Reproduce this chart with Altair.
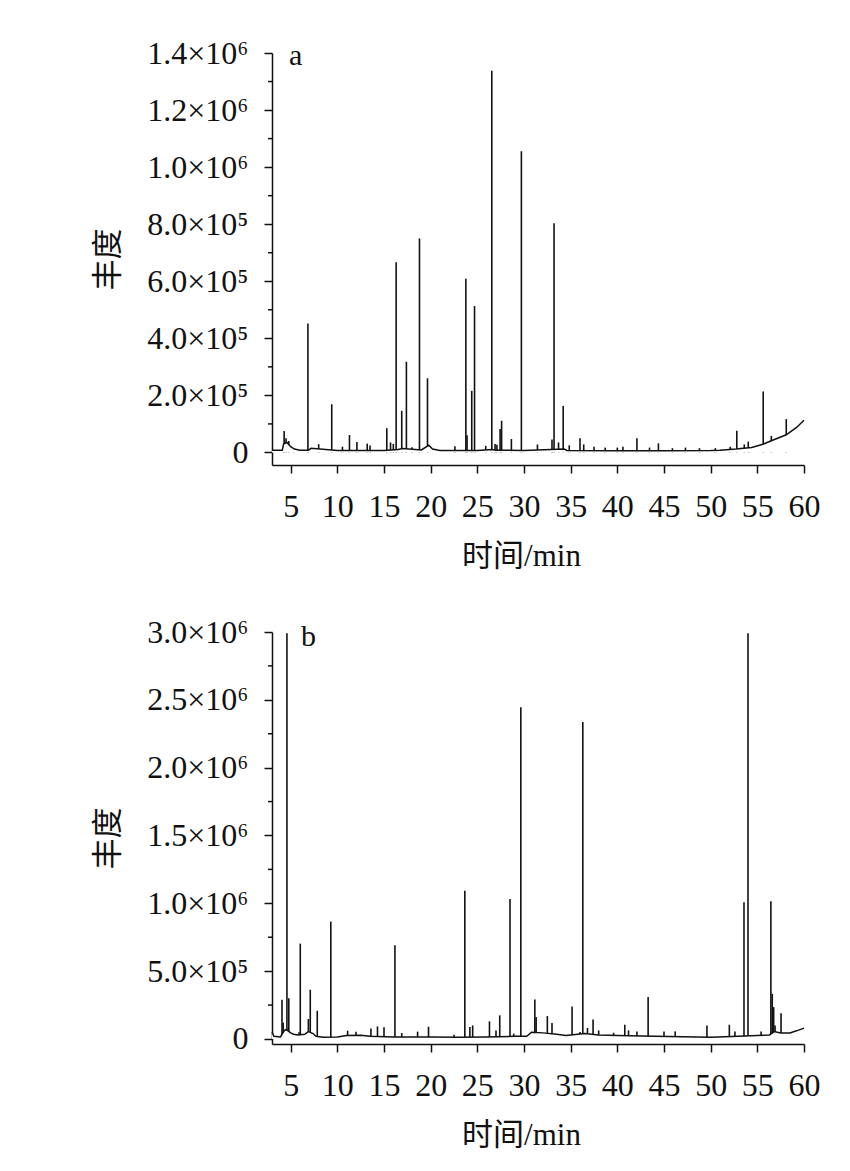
import altair as alt
import pandas as pd

INK = "#111111"
FONT = "Liberation Serif"
CJK = "Liberation Serif, Noto Sans CJK SC"
W, H = 532, 412

# ---- shared x axis ----
x_domain = [3, 60]
x_ticks = [5, 10, 15, 20, 25, 30, 35, 40, 45, 50, 55, 60]

# ---- panel a ----
a_y_domain = [-44000, 1400000]
a_y_ticks = [0, 200000, 400000, 600000, 800000, 1000000, 1200000, 1400000]
a_y_labels = ["0", "2.0×10⁵", "4.0×10⁵", "6.0×10⁵", "8.0×10⁵", "1.0×10⁶", "1.2×10⁶", "1.4×10⁶"]
a_y_minor = [100000, 300000, 500000, 700000, 900000, 1100000, 1300000]

a_peak_time = [4.3, 4.5, 4.8, 5.3, 6.85, 8.0, 9.4, 10.55, 11.3, 12.1, 13.2, 13.5,
               15.3, 15.7, 16.0, 16.3, 16.9, 17.4, 18.0, 18.8, 19.66, 22.6, 23.77, 23.9,
               24.4, 24.7, 25.9, 26.55, 26.9, 27.1, 27.44, 27.6, 28.65, 29.72, 31.44, 33.0,
               33.22, 33.7, 34.2, 34.85, 36.0, 36.4, 37.5, 38.7, 40.0, 40.6, 42.1, 43.45,
               44.4, 45.9, 47.3, 48.8, 50.5, 52.1, 52.8, 53.6, 54.03, 55.63, 56.5, 58.1]
a_peak_height = [75000, 50000, 40000, 15000, 452000, 29000, 169000, 20000, 61000, 37000, 31000, 24000,
                 85000, 35000, 30000, 667000, 146000, 318000, 18000, 750000, 260000, 22000, 609000, 60000,
                 216000, 513000, 23000, 1338000, 30000, 27000, 82000, 111000, 47000, 1056000, 28000, 45000,
                 803000, 35000, 163000, 25000, 50000, 28000, 20000, 17000, 17000, 20000, 50000, 17000,
                 32000, 15000, 17000, 15000, 15000, 20000, 76000, 28000, 38000, 214000, 58000, 117000]

a_base_time = [3.0, 4.1, 4.25, 4.6, 5.0, 5.4, 6.0, 6.9, 7.2, 10.0, 15.0, 16.5, 17.0, 19.0,
               19.8, 20.2, 21.0, 25.0, 26.6, 27.0, 30.0, 34.3, 34.6, 40.0, 45.0, 50.0, 51.0,
               52.7, 54.4, 55.6, 56.5, 58.1, 59.2, 60.0]
a_base_value = [8000, 8000, 30000, 35000, 20000, 12000, 8000, 8000, 15000, 7000, 7000, 10000, 14000, 9000,
                25000, 12000, 7000, 7000, 10000, 8000, 7000, 12000, 7000, 6000, 6000, 7000, 8000,
                12000, 17500, 29000, 41000, 62000, 87500, 113000]

# ---- panel b ----
b_y_domain = [-37000, 3000000]
b_y_ticks = [0, 500000, 1000000, 1500000, 2000000, 2500000, 3000000]
b_y_labels = ["0", "5.0×10⁵", "1.0×10⁶", "1.5×10⁶", "2.0×10⁶", "2.5×10⁶", "3.0×10⁶"]
b_y_minor = [250000, 750000, 1250000, 1750000, 2250000, 2750000]

b_peak_time = [4.07, 4.2, 4.6, 4.8, 5.9, 6.03, 6.9, 7.1, 7.85, 9.3, 11.1, 12.0,
               13.6, 14.3, 15.0, 16.17, 16.9, 18.6, 19.77, 22.5, 23.66, 24.2, 24.5, 26.3,
               27.0, 27.4, 28.5, 28.9, 29.66, 31.16, 31.3, 32.5, 33.0, 35.15, 36.0, 36.3,
               36.8, 37.4, 38.0, 39.6, 40.8, 41.2, 42.1, 43.3, 45.0, 46.2, 49.6, 52.0,
               52.6, 53.57, 54.0, 55.4, 56.45, 56.6, 56.75, 56.9, 57.54]
b_peak_height = [289000, 120000, 2990000, 300000, 49000, 703000, 147000, 363000, 208000, 865000, 61000, 54000,
                 78000, 93000, 86000, 691000, 44000, 54000, 90000, 32000, 1093000, 88000, 100000, 130000,
                 63000, 174000, 1031000, 39000, 2446000, 291000, 162000, 169000, 117000, 240000, 51000, 2336000,
                 81000, 144000, 63000, 46000, 105000, 63000, 56000, 309000, 56000, 56000, 100000, 105000,
                 56000, 1007000, 2990000, 56000, 1015000, 333000, 235000, 100000, 190000]

b_base_time = [3.0, 3.2, 3.9, 4.3, 4.5, 5.0, 5.3, 5.8, 6.5, 6.9, 7.4, 7.7, 8.5, 10.0, 11.0,
               12.5, 13.5, 16.0, 20.0, 23.0, 26.0, 29.0, 30.3, 30.8, 32.0, 33.5, 34.5, 36.5,
               38.0, 40.0, 44.0, 50.0, 53.0, 55.0, 56.3, 56.8, 57.5, 58.5, 59.2, 60.0]
b_base_value = [50000, 20000, 15000, 60000, 70000, 45000, 35000, 30000, 35000, 55000, 40000, 20000, 12000, 15000, 25000,
                28000, 20000, 15000, 15000, 12000, 15000, 20000, 20000, 50000, 45000, 35000, 25000, 40000,
                30000, 25000, 20000, 12000, 20000, 25000, 30000, 55000, 45000, 45000, 60000, 80000]


def label_expr(values, labels):
    expr = "''"
    for v, l in reversed(list(zip(values, labels))):
        expr = f"datum.value == {v} ? '{l}' : ({expr})"
    return expr


def panel(peak_t, peak_h, base_t, base_v, y_dom, y_ticks, y_labels, y_minor, letter, lx, ly):
    assert len(peak_t) == len(peak_h) and len(base_t) == len(base_v)
    xs = alt.Scale(domain=x_domain, nice=False, zero=False)
    ys = alt.Scale(domain=y_dom, nice=False, zero=False)
    peaks = pd.DataFrame({"t": peak_t, "h": peak_h, "z": [0] * len(peak_t)})
    base = pd.DataFrame({"t": base_t, "h": base_v})
    minor = pd.DataFrame({"h": y_minor})
    xaxis = alt.Axis(values=x_ticks, title="时间/min", tickSize=8, labelPadding=18,
                     titlePadding=19, labelFlush=False, titleX=249, titleAlign="center")
    yaxis = alt.Axis(values=y_ticks, labelExpr=label_expr(y_ticks, y_labels), title="丰度",
                     tickSize=8, labelPadding=16, titlePadding=22)
    rules = alt.Chart(peaks).mark_rule(color=INK, strokeWidth=1.6).encode(
        x=alt.X("t:Q", scale=xs, axis=xaxis),
        y=alt.Y("h:Q", scale=ys, axis=yaxis),
        y2="z:Q",
    )
    mask = alt.Chart(base).mark_area(color="white", opacity=1).encode(
        x=alt.X("t:Q", scale=xs),
        y=alt.Y("h:Q", scale=ys),
        y2=alt.value(H),
    )
    line = alt.Chart(base).mark_line(color=INK, strokeWidth=1.5).encode(
        x=alt.X("t:Q", scale=xs),
        y=alt.Y("h:Q", scale=ys),
    )
    minor_ticks = alt.Chart(minor).mark_rule(color=INK, strokeWidth=1.5).encode(
        y=alt.Y("h:Q", scale=ys),
        x=alt.value(-4),
        x2=alt.value(0),
    )
    txt = alt.Chart(pd.DataFrame({"s": [letter]})).mark_text(
        font=FONT, fontSize=30, color=INK, align="left", baseline="alphabetic"
    ).encode(text="s:N", x=alt.value(lx), y=alt.value(ly))
    return alt.layer(rules, mask, line, minor_ticks, txt).properties(width=W, height=H)


chart_a = panel(a_peak_time, a_peak_height, a_base_time, a_base_value, a_y_domain,
                a_y_ticks, a_y_labels, a_y_minor, "a", 17, 12)
chart_b = panel(b_peak_time, b_peak_height, b_base_time, b_base_value, b_y_domain,
                b_y_ticks, b_y_labels, b_y_minor, "b", 29, 14)

chart = alt.vconcat(chart_a, chart_b, spacing=45).properties(
    padding={"left": 84, "top": 29, "right": 10, "bottom": 10}
).configure_view(stroke=None).configure_axis(
    labelFont=FONT, labelFontSize=32, labelColor=INK,
    titleFont=CJK, titleFontSize=31, titleFontWeight="normal", titleColor=INK,
    domainColor=INK, tickColor=INK, domainWidth=1.5, tickWidth=1.5,
    grid=False, zindex=1,
)

chart.save("out.html", embed_options={"renderer": "svg", "actions": False})
